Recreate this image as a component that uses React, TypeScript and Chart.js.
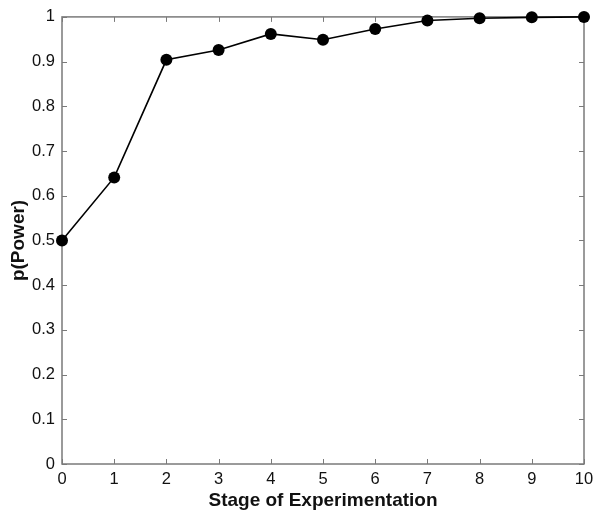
import React, { useEffect, useRef } from "react";
import { Chart, registerables } from "chart.js";

Chart.register(...registerables);

const stages = [0, 1, 2, 3, 4, 5, 6, 7, 8, 9, 10];
const power = [0.5, 0.641, 0.904, 0.926, 0.962, 0.949, 0.973, 0.992, 0.997, 0.999, 1.0];
const xTicks = [0, 1, 2, 3, 4, 5, 6, 7, 8, 9, 10];
const yTicks = [0, 0.1, 0.2, 0.3, 0.4, 0.5, 0.6, 0.7, 0.8, 0.9, 1];

const FONT = "'Liberation Sans', Arial, Helvetica, sans-serif";
const AXIS_COLOR = "#7a7a7a";

const boxPlugin = {
  id: "matlabBox",
  beforeDatasetsDraw(chart: any) {
    const { ctx, chartArea } = chart;
    const { left, right, top, bottom } = chartArea;
    const xs = chart.scales.x;
    const ys = chart.scales.y;
    ctx.save();
    ctx.strokeStyle = AXIS_COLOR;
    ctx.lineWidth = 1.5;
    ctx.strokeRect(left, top, right - left, bottom - top);
    ctx.lineWidth = 1;
    const L = 5;
    ctx.beginPath();
    xTicks.forEach((v) => {
      const px = Math.round(xs.getPixelForValue(v)) + 0.5;
      ctx.moveTo(px, bottom);
      ctx.lineTo(px, bottom - L);
      ctx.moveTo(px, top);
      ctx.lineTo(px, top + L);
    });
    yTicks.forEach((v) => {
      const py = Math.round(ys.getPixelForValue(v)) + 0.5;
      ctx.moveTo(left, py);
      ctx.lineTo(left + L, py);
      ctx.moveTo(right, py);
      ctx.lineTo(right - L, py);
    });
    ctx.stroke();
    ctx.restore();
  },
};

export default function App() {
  const ref = useRef<HTMLCanvasElement | null>(null);
  useEffect(() => {
    document.body.style.margin = "0";
    const canvas = ref.current;
    if (!canvas) return;
    const chart = new Chart(canvas, {
      type: "line",
      data: {
        datasets: [
          {
            data: stages.map((s, i) => ({ x: s, y: power[i] })),
            borderColor: "#000",
            backgroundColor: "#000",
            borderWidth: 1.6,
            pointRadius: 6,
            pointBorderWidth: 0,
            pointBackgroundColor: "#000",
            tension: 0,
            clip: false as any,
          },
        ],
      },
      options: {
        responsive: false,
        animation: false,
        devicePixelRatio: 1,
        layout: { padding: { top: 15, right: 18, left: 0, bottom: 0 } },
        plugins: { legend: { display: false }, tooltip: { enabled: false } },
        scales: {
          x: {
            type: "linear",
            min: 0,
            max: 10,
            afterBuildTicks: (s: any) => {
              s.ticks = xTicks.map((v) => ({ value: v }));
            },
            afterFit: (s: any) => {
              s.height = 54;
            },
            grid: { display: false, drawTicks: false },
            border: { display: false },
            ticks: {
              padding: 6,
              color: "#111",
              font: { family: FONT, size: 16.5 },
              callback: (v: any) => String(v),
              maxRotation: 0,
            },
            title: {
              display: true,
              text: "Stage of Experimentation",
              color: "#111",
              font: { family: FONT, size: 19, weight: "bold" },
              padding: { top: 0, bottom: 6 },
            },
          },
          y: {
            type: "linear",
            min: 0,
            max: 1,
            afterBuildTicks: (s: any) => {
              s.ticks = yTicks.map((v) => ({ value: v }));
            },
            afterFit: (s: any) => {
              s.width = 62;
            },
            grid: { display: false, drawTicks: false },
            border: { display: false },
            ticks: {
              padding: 7,
              color: "#111",
              font: { family: FONT, size: 16.5 },
              callback: (v: any) => String(Math.round(v * 10) / 10),
            },
            title: {
              display: true,
              text: "p(Power)",
              color: "#111",
              font: { family: FONT, size: 19, weight: "bold" },
              padding: { top: 7, bottom: 0 },
            },
          },
        },
      },
      plugins: [boxPlugin],
    });
    return () => chart.destroy();
  }, []);
  return (
    <div style={{ position: "relative", width: 602, height: 518, background: "#fff" }}>
      <canvas ref={ref} width={602} height={518} style={{ display: "block" }} />
    </div>
  );
}
